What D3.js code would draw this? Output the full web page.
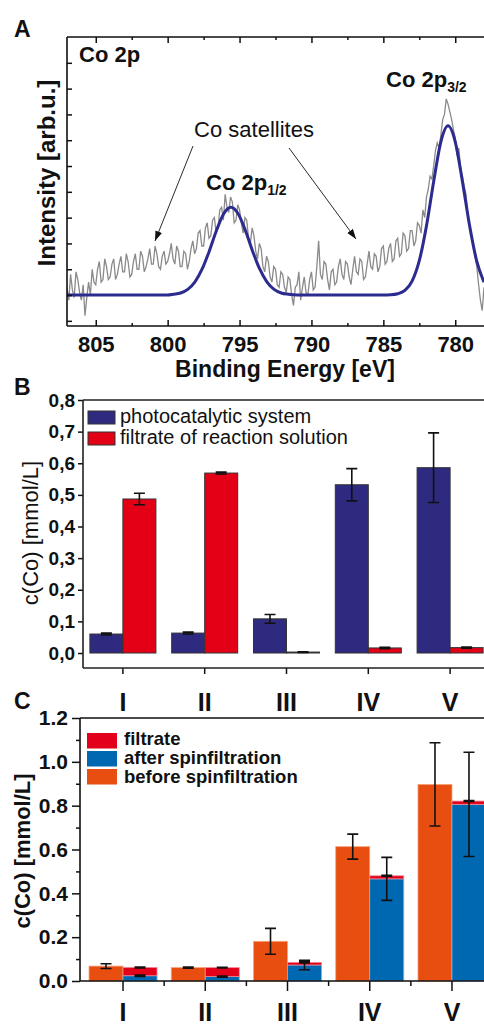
<!DOCTYPE html>
<html lang="en">
<head>
<meta charset="UTF-8" />
<title>Co 2p XPS and cobalt concentration</title>
<script src="https://d3js.org/d3.v7.min.js"></script>
<style>
  body { margin: 0; background: #fff; }
  svg { display: block; font-family: "Liberation Sans", Arial, sans-serif; }
</style>
</head>
<body>
<svg id="chart" width="484" height="1025"></svg>
<script>
// ---- data: panel A (XPS spectrum, 807 -> 778 eV in 0.125 eV steps) ----
const energy = d3.range(807, 777.95, -0.125);
const intensity = [
  0.3, -0.2, 0.8, 0.2, -0.1, 0.9, 0.6, 0.1,
  -0.2, 0.4, -0.8, -0.1, 0.5, 0.0, 1.0, 0.5,
  0.4, 1.0, 1.3, 0.5, 0.6, 1.4, 1.1, 0.6,
  0.7, 1.2, 1.4, 0.6, 0.8, 1.2, 1.5, 0.9,
  0.9, 1.6, 1.3, 0.7, 0.8, 1.3, 1.6, 1.0,
  1.0, 1.7, 1.5, 0.9, 1.1, 1.4, 1.8, 1.2,
  1.2, 1.9, 1.6, 1.1, 1.0, 1.5, 1.7, 1.2,
  1.3, 1.6, 2.0, 1.4, 1.2, 1.9, 1.7, 1.1,
  1.1, 1.7, 1.6, 1.0, 1.3, 1.8, 2.1, 1.6,
  1.8, 2.4, 2.5, 1.9, 1.9, 2.6, 2.8, 2.2,
  2.3, 2.9, 3.0, 2.4, 2.6, 3.3, 3.4, 2.9,
  3.9, 3.4, 3.2, 3.8, 3.6, 2.8, 2.9, 3.5,
  3.3, 2.8, 2.4, 3.0, 2.9, 2.2, 2.0, 2.6,
  2.3, 1.7, 1.4, 2.0, 1.8, 1.1, 0.9, 1.5,
  1.3, 0.7, 0.5, 1.1, 1.0, 0.4, 0.3, 0.9,
  0.8, 0.3, 0.1, 0.7, 0.6, 0.0, -0.4, 0.3,
  0.4, 0.9, -0.2, 0.3, 0.7, 0.1, 0.0, 0.6,
  0.9, 0.2, 0.3, 1.1, 2.1, 0.8, 0.6, 1.3,
  1.2, 0.6, 0.2, 0.9, 1.0, 0.4, 0.5, 1.1,
  1.4, 0.8, 0.6, 1.3, 1.2, 0.7, 0.4, 1.0,
  1.5, 0.9, 0.8, 1.4, 1.3, 0.6, 0.7, 1.2,
  1.7, 1.1, 1.0, 1.6, 1.5, 0.9, 1.1, 1.8,
  1.9, 1.2, 1.3, 1.8, 2.0, 1.3, 1.4, 2.1,
  2.2, 1.5, 1.6, 2.4, 2.3, 1.7, 1.8, 2.5,
  2.5, 1.9, 2.1, 2.8, 2.7, 2.4, 3.3, 3.0,
  3.8, 4.1, 4.6, 4.5, 5.0, 5.6, 5.9, 5.7,
  6.2, 6.8, 7.0, 7.6, 7.4, 7.1, 6.8, 6.4,
  6.1, 5.4, 5.7, 4.9, 4.6, 4.2, 3.9, 3.1,
  2.7, 2.3, 2.0, 1.5, 1.1, 0.4, -0.2, -0.6,
  0.3
];
const fitEnergy = [807, 800.0, 799.6, 799.1, 798.6, 798.1, 797.6, 797.1, 796.6, 796.1, 795.6,
  795.1, 794.6, 794.1, 793.6, 793.1, 792.6, 792.1, 791.6, 791.0, 785.0, 784.5, 784.0, 783.5,
  783.0, 782.5, 782.0, 781.5, 781.0, 780.5, 780.0, 779.5, 779.0, 778.5, 778.0];
const fitIntensity = [0, 0, 0.03, 0.08, 0.22, 0.51, 1.01, 1.71, 2.51, 3.15, 3.4,
  3.15, 2.51, 1.71, 1.01, 0.51, 0.22, 0.08, 0.03, 0, 0, 0.01, 0.05, 0.18,
  0.54, 1.33, 2.68, 4.40, 5.94, 6.56, 5.94, 4.40, 2.68, 1.30, 0.50];
const energyTicks = [805, 800, 795, 790, 785, 780];
const energyMinor = [802.5, 797.5, 792.5, 787.5, 782.5];

// ---- data: panels B and C ----
const categories = ["I", "II", "III", "IV", "V"];
const photoSystem = [0.060, 0.063, 0.108, 0.532, 0.586];
const photoSystemErr = [0.003, 0.003, 0.014, 0.051, 0.110];
const filtrateSolution = [0.487, 0.569, 0.003, 0.016, 0.017];
const filtrateSolutionErr = [0.018, 0.003, 0.001, 0.002, 0.002];

const beforeSpin = [0.068, 0.061, 0.181, 0.613, 0.897];
const beforeSpinErr = [0.011, 0.003, 0.059, 0.057, 0.190];
const afterSpin = [0.024, 0.020, 0.073, 0.466, 0.806];
const afterSpinErr = [0.003, 0.003, 0.022, 0.098, 0.238];
const filtrate = [0.038, 0.041, 0.012, 0.014, 0.015];
const filtrateErr = [0.002, 0.002, 0.003, 0.002, 0.002];

const font = '"Liberation Sans", Arial, sans-serif';
const svg = d3.select("#chart");
const defs = svg.append("defs");

defs.append("marker").attr("id", "arrow")
  .attr("viewBox", "0 0 10 10").attr("refX", 10).attr("refY", 5)
  .attr("markerWidth", 10).attr("markerHeight", 10)
  .attr("markerUnits", "userSpaceOnUse").attr("orient", "auto")
  .append("path").attr("d", "M0,1.5 L10,5 L0,8.5 Z").attr("fill", "#111");

function styleAxis(g, size, weight) {
  g.attr("font-family", font).attr("font-size", size).attr("font-weight", weight);
  g.selectAll("line").attr("stroke", "#111").attr("stroke-width", 1.5);
  g.selectAll("text").attr("fill", "#111");
}

function label(x, y, txt, size, weight) {
  return svg.append("text").attr("x", x).attr("y", y)
    .attr("font-family", font).attr("font-size", size)
    .attr("font-weight", weight || "bold").attr("fill", "#111").text(txt);
}

function errorBars(g, data) {
  const cap = 5.5;
  g.selectAll(null).data(data).enter().append("path")
    .attr("fill", "none").attr("stroke", "#111").attr("stroke-width", 1.6)
    .attr("d", d => `M${d.x - cap},${d.y0}H${d.x + cap}M${d.x},${d.y0}V${d.y1}M${d.x - cap},${d.y1}H${d.x + cap}`);
}

// ================= Panel A =================
const xA = d3.scaleLinear().domain([807, 778]).range([67, 484]);
const yA = d3.scaleLinear().domain([-1.2, 10]).range([326, 37]);

defs.append("clipPath").attr("id", "clipA").append("rect")
  .attr("x", 67).attr("y", 37).attr("width", 420).attr("height", 289);

const plotA = svg.append("g").attr("clip-path", "url(#clipA)");
plotA.append("path")
  .datum(energy.map((e, i) => [e, intensity[i]]))
  .attr("fill", "none").attr("stroke", "#8a8a8a").attr("stroke-width", 1.3)
  .attr("d", d3.line().x(d => xA(d[0])).y(d => yA(d[1])));
plotA.append("path")
  .datum(fitEnergy.map((e, i) => [e, fitIntensity[i]]))
  .attr("fill", "none").attr("stroke", "#2c2b8f").attr("stroke-width", 3)
  .attr("d", d3.line().x(d => xA(d[0])).y(d => yA(d[1])).curve(d3.curveMonotoneX));

const axA = svg.append("g").attr("transform", "translate(0,326)")
  .call(d3.axisBottom(xA).tickValues(energyTicks).tickSizeInner(-6).tickSizeOuter(0).tickPadding(10));
axA.select(".domain").remove();
styleAxis(axA, 22, "bold");
const axA2 = svg.append("g").attr("transform", "translate(0,326)")
  .call(d3.axisBottom(xA).tickValues(energyMinor).tickSizeInner(-3).tickSizeOuter(0).tickFormat(""));
axA2.select(".domain").remove();
styleAxis(axA2, 10, "normal");
const axAt = svg.append("g").attr("transform", "translate(0,37)")
  .call(d3.axisTop(xA).tickValues(energyTicks).tickSizeInner(-6).tickSizeOuter(0).tickFormat(""));
axAt.select(".domain").remove();
styleAxis(axAt, 10, "normal");
const axAt2 = svg.append("g").attr("transform", "translate(0,37)")
  .call(d3.axisTop(xA).tickValues(energyMinor).tickSizeInner(-3).tickSizeOuter(0).tickFormat(""));
axAt2.select(".domain").remove();
styleAxis(axAt2, 10, "normal");
const axAl = svg.append("g").attr("transform", "translate(67,0)")
  .call(d3.axisLeft(yA).tickValues(d3.range(-1, 10)).tickSizeInner(-5).tickSizeOuter(0).tickFormat(""));
axAl.select(".domain").remove();
styleAxis(axAl, 10, "normal");

svg.append("path").attr("d", "M67,37V326M67,37H486M67,326H486")
  .attr("fill", "none").attr("stroke", "#111").attr("stroke-width", 1.6);

label(14, 37, "A", 23);
label(79, 62, "Co 2p", 22);
const p32 = label(386, 87, "Co 2p", 22);
p32.append("tspan").attr("dy", 5).attr("font-size", 14).text("3/2");
const p12 = label(206, 190, "Co 2p", 22);
p12.append("tspan").attr("dy", 5).attr("font-size", 14).text("1/2");
label(254, 137, "Co satellites", 22, "normal").attr("text-anchor", "middle");

svg.append("line").attr("x1", 193).attr("y1", 146).attr("x2", 155).attr("y2", 241)
  .attr("stroke", "#111").attr("stroke-width", 0.9).attr("marker-end", "url(#arrow)");
svg.append("line").attr("x1", 289).attr("y1", 148).attr("x2", 356).attr("y2", 239)
  .attr("stroke", "#111").attr("stroke-width", 0.9).attr("marker-end", "url(#arrow)");

label(0, 0, "Intensity [arb.u.]", 24).attr("text-anchor", "middle")
  .attr("transform", "translate(55,173) rotate(-90)");
label(285, 377, "Binding Energy [eV]", 23).attr("text-anchor", "middle");

// ================= Panel B =================
const xB = d3.scaleBand().domain(categories).range([82, 491]).paddingInner(0.193).paddingOuter(0.0965);
const subB = d3.scaleBand().domain(["photo", "filt"]).range([0, xB.bandwidth()]);
const yB = d3.scaleLinear().domain([-0.0474, 0.8]).range([668, 400]);
const seriesB = [
  { key: "photo", name: "photocatalytic system", color: "#2e2a7f", vals: photoSystem, err: photoSystemErr },
  { key: "filt", name: "filtrate of reaction solution", color: "#e30016", vals: filtrateSolution, err: filtrateSolutionErr }
];

const gB = svg.append("g");
seriesB.forEach(s => {
  gB.selectAll(null).data(categories).enter().append("rect")
    .attr("x", c => xB(c) + subB(s.key))
    .attr("width", subB.bandwidth())
    .attr("y", (c, i) => yB(s.vals[i]))
    .attr("height", (c, i) => yB(0) - yB(s.vals[i]))
    .attr("fill", s.color).attr("stroke", "#333").attr("stroke-width", 1);
});
seriesB.forEach(s => {
  errorBars(gB, categories.map((c, i) => ({
    x: xB(c) + subB(s.key) + subB.bandwidth() / 2,
    y0: yB(s.vals[i] + s.err[i]), y1: yB(s.vals[i] - s.err[i])
  })));
});

const axBl = svg.append("g").attr("transform", "translate(83,0)")
  .call(d3.axisLeft(yB).tickValues(d3.range(0, 0.81, 0.1)).tickSizeInner(5).tickSizeOuter(0).tickPadding(3)
    .tickFormat(d => d3.format(".1f")(d).replace(".", ",")));
axBl.select(".domain").remove();
styleAxis(axBl, 19, "bold");
const axBb = svg.append("g").attr("transform", "translate(0,668)")
  .call(d3.axisBottom(xB).tickSizeInner(6).tickSizeOuter(0).tickPadding(19));
axBb.select(".domain").remove();
styleAxis(axBb, 25, "bold");

svg.append("path").attr("d", "M83,400V668M83,400H486M83,668H486")
  .attr("fill", "none").attr("stroke", "#222").attr("stroke-width", 1.6);

const legB = svg.append("g");
seriesB.forEach((s, i) => {
  legB.append("rect").attr("x", 88).attr("y", 411 + i * 21).attr("width", 27).attr("height", 13)
    .attr("fill", s.color).attr("stroke", "#333").attr("stroke-width", 1);
  legB.append("text").attr("x", 120).attr("y", 423 + i * 21)
    .attr("font-family", font).attr("font-size", 20).attr("fill", "#111").text(s.name);
});

label(14, 395, "B", 23);
label(0, 0, "c(Co) [mmol/L]", 22, "normal").attr("text-anchor", "middle")
  .attr("transform", "translate(38,533) rotate(-90)");

// ================= Panel C =================
const xC = d3.scaleBand().domain(categories).range([81.9, 493.1]).paddingInner(0.173).paddingOuter(0.0865);
const subC = d3.scaleBand().domain(["before", "stack"]).range([0, xC.bandwidth()]);
const yC = d3.scaleLinear().domain([0, 1.2]).range([981, 718]);
const colFiltrate = "#e2001a", colAfter = "#0068b0", colBefore = "#e84e10";

const gC = svg.append("g");
gC.selectAll(null).data(categories).enter().append("rect")
  .attr("x", c => xC(c) + subC("before")).attr("width", subC.bandwidth())
  .attr("y", (c, i) => yC(beforeSpin[i])).attr("height", (c, i) => yC(0) - yC(beforeSpin[i]))
  .attr("fill", colBefore).attr("stroke", "#f6a27c").attr("stroke-width", 0.8);
gC.selectAll(null).data(categories).enter().append("rect")
  .attr("x", c => xC(c) + subC("stack")).attr("width", subC.bandwidth())
  .attr("y", (c, i) => yC(afterSpin[i])).attr("height", (c, i) => yC(0) - yC(afterSpin[i]))
  .attr("fill", colAfter).attr("stroke", "#7fb2dc").attr("stroke-width", 0.8);
gC.selectAll(null).data(categories).enter().append("rect")
  .attr("x", c => xC(c) + subC("stack")).attr("width", subC.bandwidth())
  .attr("y", (c, i) => yC(afterSpin[i] + filtrate[i]))
  .attr("height", (c, i) => yC(afterSpin[i]) - yC(afterSpin[i] + filtrate[i]))
  .attr("fill", colFiltrate).attr("stroke", "#f08a96").attr("stroke-width", 0.8);

errorBars(gC, categories.map((c, i) => ({
  x: xC(c) + subC("before") + subC.bandwidth() / 2,
  y0: yC(beforeSpin[i] + beforeSpinErr[i]), y1: yC(beforeSpin[i] - beforeSpinErr[i])
})));
errorBars(gC, categories.map((c, i) => ({
  x: xC(c) + subC("stack") + subC.bandwidth() / 2,
  y0: yC(afterSpin[i] + afterSpinErr[i]), y1: yC(afterSpin[i] - afterSpinErr[i])
})));
errorBars(gC, categories.map((c, i) => ({
  x: xC(c) + subC("stack") + subC.bandwidth() / 2,
  y0: yC(afterSpin[i] + filtrate[i] + filtrateErr[i]), y1: yC(afterSpin[i] + filtrate[i] - filtrateErr[i])
})));

const axCl = svg.append("g").attr("transform", "translate(80,0)")
  .call(d3.axisLeft(yC).tickValues(d3.range(0, 1.21, 0.2)).tickSizeInner(8).tickSizeOuter(0).tickPadding(4)
    .tickFormat(d3.format(".1f")));
axCl.select(".domain").remove();
styleAxis(axCl, 21, "bold");
const axCl2 = svg.append("g").attr("transform", "translate(80,0)")
  .call(d3.axisLeft(yC).tickValues(d3.range(0.1, 1.2, 0.2)).tickSizeInner(4).tickSizeOuter(0).tickFormat(""));
axCl2.select(".domain").remove();
styleAxis(axCl2, 10, "normal");
const axCb = svg.append("g").attr("transform", "translate(0,981)")
  .call(d3.axisBottom(xC).tickSizeInner(10).tickSizeOuter(0).tickPadding(12));
axCb.select(".domain").remove();
styleAxis(axCb, 25, "bold");
const bounds = categories.slice(1).map(c => xC(c) + xC.bandwidth() / 2 - xC.step() / 2);
svg.append("g").selectAll(null).data(bounds).enter().append("line")
  .attr("x1", d => d).attr("x2", d => d).attr("y1", 981).attr("y2", 986)
  .attr("stroke", "#111").attr("stroke-width", 1.5);

svg.append("path").attr("d", "M80,718V981H486M80,718H486")
  .attr("fill", "none").attr("stroke", "#111").attr("stroke-width", 1.6);

const legC = [
  { name: "filtrate", color: colFiltrate },
  { name: "after spinfiltration", color: colAfter },
  { name: "before spinfiltration", color: colBefore }
];
legC.forEach((s, i) => {
  svg.append("rect").attr("x", 87).attr("y", 733 + i * 18).attr("width", 30).attr("height", 15.5)
    .attr("fill", s.color);
  label(124, 745 + i * 19, s.name, 18.5);
});

label(14, 709, "C", 23);
label(0, 0, "c(Co) [mmol/L]", 22).attr("text-anchor", "middle")
  .attr("transform", "translate(30,851) rotate(-90)");
</script>
</body>
</html>
